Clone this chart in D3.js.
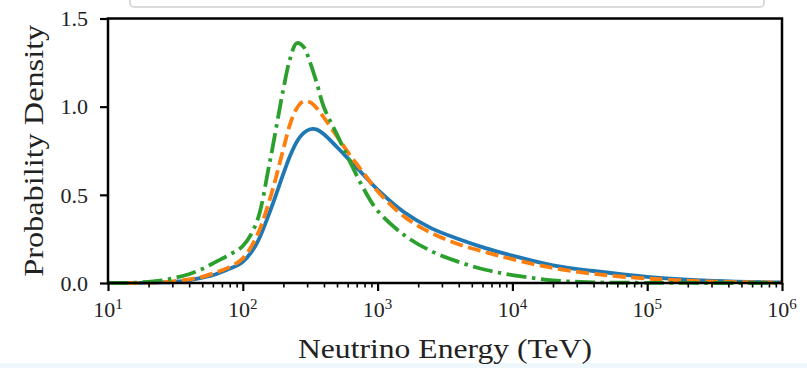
<!DOCTYPE html>
<html><head><meta charset="utf-8">
<script src="https://cdn.jsdelivr.net/npm/d3@7"></script>
<style>html,body{margin:0;padding:0;background:#fff;}svg{display:block;}</style>
</head><body>
<svg id="c" width="807" height="368"></svg>
<script>
// ---- data ----
const energyTeV = [10, 15.8, 25.1, 31.6, 39.8, 50.1, 63.1, 79.4, 100, 126, 158, 200, 224, 251, 282, 316, 355, 398, 501, 631, 794, 1000, 1585, 2512, 3981, 6310, 10000, 19953, 39811, 100000, 316228, 1000000];
const seriesBlue   = [0, 0, 0.003, 0.007, 0.015, 0.03, 0.05, 0.08, 0.12, 0.22, 0.40, 0.62, 0.72, 0.80, 0.85, 0.872, 0.87, 0.845, 0.77, 0.69, 0.61, 0.53, 0.40, 0.31, 0.25, 0.198, 0.155, 0.10, 0.068, 0.035, 0.012, 0.003];
const seriesOrange = [0, 0, 0.005, 0.01, 0.02, 0.035, 0.06, 0.09, 0.14, 0.26, 0.47, 0.76, 0.90, 0.99, 1.03, 1.025, 0.99, 0.94, 0.83, 0.72, 0.62, 0.52, 0.375, 0.283, 0.22, 0.175, 0.135, 0.085, 0.052, 0.025, 0.008, 0.002];
const seriesGreen  = [0, 0.002, 0.015, 0.03, 0.05, 0.08, 0.12, 0.16, 0.21, 0.34, 0.68, 1.10, 1.27, 1.36, 1.34, 1.25, 1.13, 1.0, 0.84, 0.68, 0.53, 0.41, 0.27, 0.18, 0.12, 0.075, 0.045, 0.015, 0.004, 0.001, 0, 0];
const xMajorExponents = [1, 2, 3, 4, 5, 6];
const yTickValues = [0, 0.5, 1.0, 1.5];
const yTickLabels = ["0.0", "0.5", "1.0", "1.5"];
const xLabel = "Neutrino Energy (TeV)";
const yLabel = "Probability Density";

// ---- layout ----
const L = 108, R = 782, T = 18.5, B = 283;
const svg = d3.select("#c");
const font = "'Liberation Serif', 'DejaVu Serif', serif";

// background bits
svg.append("rect").attr("x",0).attr("y",363).attr("width",807).attr("height",5).attr("fill","#eef7fb");
svg.append("rect").attr("x",130).attr("y",-12).attr("width",634).attr("height",19).attr("rx",4)
  .attr("fill","#fff").attr("stroke","#cfcfcf").attr("stroke-width",1.5);

const x = d3.scaleLog().domain([10, 1e6]).range([L, R]);
const y = d3.scaleLinear().domain([0, 1.5]).range([B, T]);

// curves
const line = d3.line().x(d => x(d[0])).y(d => y(Math.max(0, d[1]))).curve(d3.curveCatmullRom.alpha(0.5));
const series = [
  {vals: seriesBlue, color: "#1f77b4", dash: null},
  {vals: seriesOrange, color: "#ff7f0e", dash: "13,5.5"},
  {vals: seriesGreen, color: "#2ca02c", dash: "20,5.5,3.5,5.5"}
];
const g = svg.append("g");
series.forEach(s => {
  g.append("path").datum(energyTeV.map((e,i)=>[e, s.vals[i]]))
    .attr("d", line).attr("fill","none").attr("stroke", s.color)
    .attr("stroke-width", 3.8).attr("stroke-dasharray", s.dash);
});

// x axis ticks
const majors = xMajorExponents.map(p => Math.pow(10, p));
const minors = [];
for (let p = 1; p < 6; p++) for (let k = 2; k <= 9; k++) minors.push(k * Math.pow(10, p));
const xaMaj = svg.append("g").attr("transform", `translate(0,${B})`)
  .call(d3.axisBottom(x).tickValues(majors).tickSize(8).tickFormat(""));
const xaMin = svg.append("g").attr("transform", `translate(0,${B})`)
  .call(d3.axisBottom(x).tickValues(minors).tickSize(4.5).tickFormat(""));
xaMaj.selectAll("line").attr("stroke","#000").attr("stroke-width",2.2);
xaMin.selectAll("line").attr("stroke","#000").attr("stroke-width",1.6);
[xaMaj, xaMin].forEach(a => a.select(".domain").remove());

// x tick labels 10^n
xMajorExponents.forEach((p, i) => {
  const t = svg.append("text").attr("x", x(majors[i])).attr("y", 317)
    .attr("text-anchor","middle").attr("font-family", font).attr("font-size", 22).attr("fill","#222");
  t.append("tspan").text("10");
  t.append("tspan").attr("dy", -8).attr("font-size", 15).text(p);
});

// y axis
const ya = svg.append("g").attr("transform", `translate(${L},0)`)
  .call(d3.axisLeft(y).tickValues(yTickValues).tickSize(8).tickFormat(""));
ya.select(".domain").remove();
ya.selectAll("line").attr("stroke","#000").attr("stroke-width",2.2);
yTickValues.forEach((v, i) => {
  svg.append("text").attr("x", 88).attr("y", y(v)).attr("dy", "0.35em")
    .attr("text-anchor","end").attr("font-family", font).attr("font-size", 22).attr("fill","#222")
    .text(yTickLabels[i]);
});

// frame
svg.append("rect").attr("x", L).attr("y", T).attr("width", R - L).attr("height", B - T)
  .attr("fill","none").attr("stroke","#000").attr("stroke-width",2.5);

// axis labels
svg.append("text").attr("x", (L + R) / 2).attr("y", 358).attr("text-anchor","middle")
  .attr("font-family", font).attr("font-size", 27).attr("fill","#222")
  .attr("textLength", 294).attr("lengthAdjust","spacingAndGlyphs").text(xLabel);
svg.append("text").attr("transform", `translate(43,${(T + B) / 2}) rotate(-90)`).attr("text-anchor","middle")
  .attr("font-family", font).attr("font-size", 27).attr("fill","#222")
  .attr("textLength", 252).attr("lengthAdjust","spacingAndGlyphs").text(yLabel);
</script>
</body></html>
